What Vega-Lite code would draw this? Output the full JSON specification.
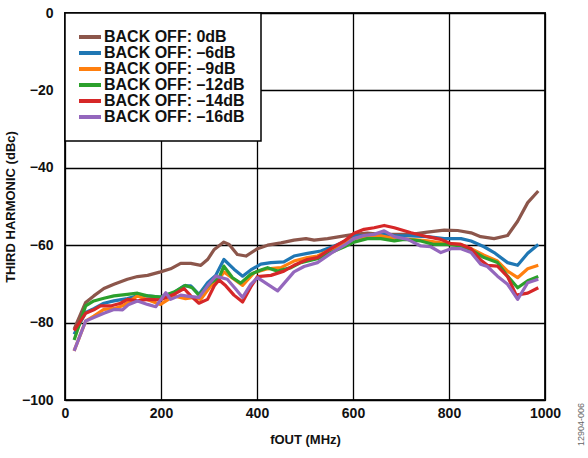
{
  "$schema": "https://vega.github.io/schema/vega-lite/v6.json",
  "width": 480,
  "height": 387,
  "autosize": "none",
  "padding": {"left": 65, "top": 13, "right": 43, "bottom": 58},
  "config": {
    "font": "Liberation Sans",
    "view": {"stroke": "#222", "strokeWidth": 2},
    "axis": {"labelFont": "Liberation Sans", "titleFont": "Liberation Sans", "labelFontWeight": "bold", "titleFontWeight": "bold", "labelColor": "#111", "titleColor": "#111", "gridColor": "#000", "gridOpacity": 1, "gridWidth": 1.3, "domain": false, "ticks": false},
    "legend": {"labelFont": "Liberation Sans", "labelFontWeight": "bold"}
  },
  "title": {"text": "12904-006", "orient": "right", "anchor": "end", "frame": "bounds", "angle": -90, "align": "left", "fontSize": 9, "fontWeight": "normal", "color": "#666", "offset": 7, "font": "Liberation Sans"},
  "data": {"values": [
    {"s":"BACK OFF: 0dB","f":19,"h":-81.7},{"s":"BACK OFF: 0dB","f":43,"h":-74.8},{"s":"BACK OFF: 0dB","f":60,"h":-73.1},{"s":"BACK OFF: 0dB","f":81,"h":-71.2},{"s":"BACK OFF: 0dB","f":102,"h":-70.1},{"s":"BACK OFF: 0dB","f":130,"h":-68.8},{"s":"BACK OFF: 0dB","f":151,"h":-68.1},{"s":"BACK OFF: 0dB","f":172,"h":-67.8},{"s":"BACK OFF: 0dB","f":199,"h":-66.9},{"s":"BACK OFF: 0dB","f":220,"h":-66.1},{"s":"BACK OFF: 0dB","f":241,"h":-64.7},{"s":"BACK OFF: 0dB","f":262,"h":-64.7},{"s":"BACK OFF: 0dB","f":283,"h":-65.2},{"s":"BACK OFF: 0dB","f":297,"h":-63.7},{"s":"BACK OFF: 0dB","f":311,"h":-61.1},{"s":"BACK OFF: 0dB","f":331,"h":-59.2},{"s":"BACK OFF: 0dB","f":342,"h":-59.8},{"s":"BACK OFF: 0dB","f":359,"h":-62.4},{"s":"BACK OFF: 0dB","f":377,"h":-62.8},{"s":"BACK OFF: 0dB","f":401,"h":-60.9},{"s":"BACK OFF: 0dB","f":422,"h":-60.0},{"s":"BACK OFF: 0dB","f":450,"h":-59.4},{"s":"BACK OFF: 0dB","f":477,"h":-58.7},{"s":"BACK OFF: 0dB","f":502,"h":-58.3},{"s":"BACK OFF: 0dB","f":519,"h":-58.7},{"s":"BACK OFF: 0dB","f":547,"h":-58.3},{"s":"BACK OFF: 0dB","f":582,"h":-57.6},{"s":"BACK OFF: 0dB","f":602,"h":-57.2},{"s":"BACK OFF: 0dB","f":630,"h":-56.9},{"s":"BACK OFF: 0dB","f":658,"h":-57.2},{"s":"BACK OFF: 0dB","f":686,"h":-57.2},{"s":"BACK OFF: 0dB","f":721,"h":-57.2},{"s":"BACK OFF: 0dB","f":755,"h":-56.6},{"s":"BACK OFF: 0dB","f":790,"h":-56.1},{"s":"BACK OFF: 0dB","f":818,"h":-56.2},{"s":"BACK OFF: 0dB","f":846,"h":-56.8},{"s":"BACK OFF: 0dB","f":866,"h":-57.8},{"s":"BACK OFF: 0dB","f":894,"h":-58.3},{"s":"BACK OFF: 0dB","f":922,"h":-57.5},{"s":"BACK OFF: 0dB","f":943,"h":-53.8},{"s":"BACK OFF: 0dB","f":964,"h":-49.0},{"s":"BACK OFF: 0dB","f":986,"h":-46.0},
    {"s":"BACK OFF: –6dB","f":19,"h":-83.0},{"s":"BACK OFF: –6dB","f":43,"h":-77.4},{"s":"BACK OFF: –6dB","f":60,"h":-76.4},{"s":"BACK OFF: –6dB","f":81,"h":-75.0},{"s":"BACK OFF: –6dB","f":102,"h":-74.4},{"s":"BACK OFF: –6dB","f":130,"h":-73.8},{"s":"BACK OFF: –6dB","f":151,"h":-73.1},{"s":"BACK OFF: –6dB","f":172,"h":-73.1},{"s":"BACK OFF: –6dB","f":199,"h":-73.4},{"s":"BACK OFF: –6dB","f":227,"h":-72.3},{"s":"BACK OFF: –6dB","f":248,"h":-70.5},{"s":"BACK OFF: –6dB","f":262,"h":-70.5},{"s":"BACK OFF: –6dB","f":279,"h":-72.7},{"s":"BACK OFF: –6dB","f":297,"h":-69.7},{"s":"BACK OFF: –6dB","f":314,"h":-67.8},{"s":"BACK OFF: –6dB","f":331,"h":-63.7},{"s":"BACK OFF: –6dB","f":352,"h":-66.2},{"s":"BACK OFF: –6dB","f":370,"h":-68.0},{"s":"BACK OFF: –6dB","f":387,"h":-66.4},{"s":"BACK OFF: –6dB","f":408,"h":-64.9},{"s":"BACK OFF: –6dB","f":429,"h":-64.5},{"s":"BACK OFF: –6dB","f":456,"h":-64.3},{"s":"BACK OFF: –6dB","f":477,"h":-62.8},{"s":"BACK OFF: –6dB","f":505,"h":-62.1},{"s":"BACK OFF: –6dB","f":533,"h":-61.5},{"s":"BACK OFF: –6dB","f":561,"h":-60.2},{"s":"BACK OFF: –6dB","f":589,"h":-58.7},{"s":"BACK OFF: –6dB","f":602,"h":-57.6},{"s":"BACK OFF: –6dB","f":630,"h":-57.5},{"s":"BACK OFF: –6dB","f":658,"h":-56.9},{"s":"BACK OFF: –6dB","f":686,"h":-57.5},{"s":"BACK OFF: –6dB","f":721,"h":-57.6},{"s":"BACK OFF: –6dB","f":755,"h":-57.8},{"s":"BACK OFF: –6dB","f":790,"h":-58.3},{"s":"BACK OFF: –6dB","f":825,"h":-58.3},{"s":"BACK OFF: –6dB","f":846,"h":-58.9},{"s":"BACK OFF: –6dB","f":873,"h":-60.4},{"s":"BACK OFF: –6dB","f":894,"h":-61.9},{"s":"BACK OFF: –6dB","f":922,"h":-64.5},{"s":"BACK OFF: –6dB","f":943,"h":-65.2},{"s":"BACK OFF: –6dB","f":964,"h":-62.1},{"s":"BACK OFF: –6dB","f":986,"h":-59.8},
    {"s":"BACK OFF: –9dB","f":19,"h":-87.3},{"s":"BACK OFF: –9dB","f":43,"h":-79.6},{"s":"BACK OFF: –9dB","f":60,"h":-78.3},{"s":"BACK OFF: –9dB","f":81,"h":-76.6},{"s":"BACK OFF: –9dB","f":102,"h":-76.4},{"s":"BACK OFF: –9dB","f":123,"h":-75.5},{"s":"BACK OFF: –9dB","f":151,"h":-73.1},{"s":"BACK OFF: –9dB","f":172,"h":-74.1},{"s":"BACK OFF: –9dB","f":199,"h":-75.3},{"s":"BACK OFF: –9dB","f":227,"h":-73.1},{"s":"BACK OFF: –9dB","f":251,"h":-73.8},{"s":"BACK OFF: –9dB","f":269,"h":-73.5},{"s":"BACK OFF: –9dB","f":283,"h":-74.0},{"s":"BACK OFF: –9dB","f":304,"h":-70.5},{"s":"BACK OFF: –9dB","f":321,"h":-68.8},{"s":"BACK OFF: –9dB","f":331,"h":-66.9},{"s":"BACK OFF: –9dB","f":352,"h":-68.8},{"s":"BACK OFF: –9dB","f":370,"h":-70.4},{"s":"BACK OFF: –9dB","f":394,"h":-67.1},{"s":"BACK OFF: –9dB","f":422,"h":-66.1},{"s":"BACK OFF: –9dB","f":450,"h":-65.8},{"s":"BACK OFF: –9dB","f":477,"h":-64.1},{"s":"BACK OFF: –9dB","f":505,"h":-63.2},{"s":"BACK OFF: –9dB","f":526,"h":-62.8},{"s":"BACK OFF: –9dB","f":554,"h":-61.1},{"s":"BACK OFF: –9dB","f":582,"h":-59.5},{"s":"BACK OFF: –9dB","f":602,"h":-58.3},{"s":"BACK OFF: –9dB","f":630,"h":-57.8},{"s":"BACK OFF: –9dB","f":658,"h":-57.6},{"s":"BACK OFF: –9dB","f":686,"h":-58.3},{"s":"BACK OFF: –9dB","f":721,"h":-58.5},{"s":"BACK OFF: –9dB","f":755,"h":-58.9},{"s":"BACK OFF: –9dB","f":790,"h":-59.5},{"s":"BACK OFF: –9dB","f":825,"h":-59.8},{"s":"BACK OFF: –9dB","f":846,"h":-60.9},{"s":"BACK OFF: –9dB","f":873,"h":-62.6},{"s":"BACK OFF: –9dB","f":901,"h":-64.1},{"s":"BACK OFF: –9dB","f":922,"h":-66.7},{"s":"BACK OFF: –9dB","f":943,"h":-68.4},{"s":"BACK OFF: –9dB","f":964,"h":-66.1},{"s":"BACK OFF: –9dB","f":986,"h":-65.2},
    {"s":"BACK OFF: –12dB","f":19,"h":-84.5},{"s":"BACK OFF: –12dB","f":43,"h":-75.7},{"s":"BACK OFF: –12dB","f":60,"h":-74.4},{"s":"BACK OFF: –12dB","f":81,"h":-73.7},{"s":"BACK OFF: –12dB","f":102,"h":-73.1},{"s":"BACK OFF: –12dB","f":130,"h":-72.7},{"s":"BACK OFF: –12dB","f":151,"h":-72.4},{"s":"BACK OFF: –12dB","f":172,"h":-73.1},{"s":"BACK OFF: –12dB","f":199,"h":-73.4},{"s":"BACK OFF: –12dB","f":227,"h":-72.1},{"s":"BACK OFF: –12dB","f":251,"h":-70.4},{"s":"BACK OFF: –12dB","f":265,"h":-71.0},{"s":"BACK OFF: –12dB","f":279,"h":-72.9},{"s":"BACK OFF: –12dB","f":304,"h":-69.7},{"s":"BACK OFF: –12dB","f":321,"h":-68.4},{"s":"BACK OFF: –12dB","f":331,"h":-65.4},{"s":"BACK OFF: –12dB","f":349,"h":-68.4},{"s":"BACK OFF: –12dB","f":366,"h":-69.8},{"s":"BACK OFF: –12dB","f":387,"h":-67.5},{"s":"BACK OFF: –12dB","f":408,"h":-66.4},{"s":"BACK OFF: –12dB","f":422,"h":-65.8},{"s":"BACK OFF: –12dB","f":443,"h":-66.7},{"s":"BACK OFF: –12dB","f":471,"h":-65.8},{"s":"BACK OFF: –12dB","f":491,"h":-64.5},{"s":"BACK OFF: –12dB","f":526,"h":-63.5},{"s":"BACK OFF: –12dB","f":554,"h":-61.9},{"s":"BACK OFF: –12dB","f":582,"h":-60.4},{"s":"BACK OFF: –12dB","f":602,"h":-59.2},{"s":"BACK OFF: –12dB","f":630,"h":-58.3},{"s":"BACK OFF: –12dB","f":658,"h":-58.3},{"s":"BACK OFF: –12dB","f":686,"h":-58.9},{"s":"BACK OFF: –12dB","f":707,"h":-58.5},{"s":"BACK OFF: –12dB","f":741,"h":-58.9},{"s":"BACK OFF: –12dB","f":769,"h":-59.8},{"s":"BACK OFF: –12dB","f":797,"h":-59.8},{"s":"BACK OFF: –12dB","f":825,"h":-60.2},{"s":"BACK OFF: –12dB","f":846,"h":-61.2},{"s":"BACK OFF: –12dB","f":873,"h":-63.2},{"s":"BACK OFF: –12dB","f":901,"h":-64.5},{"s":"BACK OFF: –12dB","f":922,"h":-68.0},{"s":"BACK OFF: –12dB","f":943,"h":-71.0},{"s":"BACK OFF: –12dB","f":964,"h":-69.2},{"s":"BACK OFF: –12dB","f":986,"h":-68.1},
    {"s":"BACK OFF: –14dB","f":19,"h":-82.1},{"s":"BACK OFF: –14dB","f":43,"h":-77.6},{"s":"BACK OFF: –14dB","f":60,"h":-76.7},{"s":"BACK OFF: –14dB","f":74,"h":-75.7},{"s":"BACK OFF: –14dB","f":95,"h":-75.7},{"s":"BACK OFF: –14dB","f":116,"h":-75.0},{"s":"BACK OFF: –14dB","f":130,"h":-74.0},{"s":"BACK OFF: –14dB","f":151,"h":-74.4},{"s":"BACK OFF: –14dB","f":172,"h":-74.0},{"s":"BACK OFF: –14dB","f":199,"h":-74.1},{"s":"BACK OFF: –14dB","f":227,"h":-72.7},{"s":"BACK OFF: –14dB","f":248,"h":-71.2},{"s":"BACK OFF: –14dB","f":262,"h":-73.1},{"s":"BACK OFF: –14dB","f":279,"h":-75.0},{"s":"BACK OFF: –14dB","f":297,"h":-74.0},{"s":"BACK OFF: –14dB","f":311,"h":-70.5},{"s":"BACK OFF: –14dB","f":321,"h":-69.0},{"s":"BACK OFF: –14dB","f":335,"h":-70.5},{"s":"BACK OFF: –14dB","f":352,"h":-72.9},{"s":"BACK OFF: –14dB","f":370,"h":-74.7},{"s":"BACK OFF: –14dB","f":387,"h":-70.8},{"s":"BACK OFF: –14dB","f":401,"h":-68.1},{"s":"BACK OFF: –14dB","f":429,"h":-67.8},{"s":"BACK OFF: –14dB","f":456,"h":-66.7},{"s":"BACK OFF: –14dB","f":477,"h":-65.2},{"s":"BACK OFF: –14dB","f":505,"h":-63.7},{"s":"BACK OFF: –14dB","f":526,"h":-63.2},{"s":"BACK OFF: –14dB","f":554,"h":-60.9},{"s":"BACK OFF: –14dB","f":582,"h":-58.9},{"s":"BACK OFF: –14dB","f":602,"h":-56.9},{"s":"BACK OFF: –14dB","f":623,"h":-55.9},{"s":"BACK OFF: –14dB","f":644,"h":-55.5},{"s":"BACK OFF: –14dB","f":665,"h":-54.9},{"s":"BACK OFF: –14dB","f":686,"h":-55.5},{"s":"BACK OFF: –14dB","f":721,"h":-56.8},{"s":"BACK OFF: –14dB","f":755,"h":-57.8},{"s":"BACK OFF: –14dB","f":783,"h":-58.5},{"s":"BACK OFF: –14dB","f":804,"h":-59.6},{"s":"BACK OFF: –14dB","f":825,"h":-59.8},{"s":"BACK OFF: –14dB","f":846,"h":-60.9},{"s":"BACK OFF: –14dB","f":866,"h":-63.8},{"s":"BACK OFF: –14dB","f":880,"h":-65.2},{"s":"BACK OFF: –14dB","f":901,"h":-65.4},{"s":"BACK OFF: –14dB","f":922,"h":-68.1},{"s":"BACK OFF: –14dB","f":940,"h":-72.9},{"s":"BACK OFF: –14dB","f":964,"h":-72.4},{"s":"BACK OFF: –14dB","f":986,"h":-71.0},
    {"s":"BACK OFF: –16dB","f":19,"h":-87.3},{"s":"BACK OFF: –16dB","f":43,"h":-79.6},{"s":"BACK OFF: –16dB","f":60,"h":-78.7},{"s":"BACK OFF: –16dB","f":81,"h":-77.6},{"s":"BACK OFF: –16dB","f":102,"h":-76.6},{"s":"BACK OFF: –16dB","f":120,"h":-76.7},{"s":"BACK OFF: –16dB","f":133,"h":-75.3},{"s":"BACK OFF: –16dB","f":151,"h":-74.4},{"s":"BACK OFF: –16dB","f":172,"h":-75.3},{"s":"BACK OFF: –16dB","f":189,"h":-75.9},{"s":"BACK OFF: –16dB","f":210,"h":-72.3},{"s":"BACK OFF: –16dB","f":220,"h":-74.0},{"s":"BACK OFF: –16dB","f":241,"h":-72.9},{"s":"BACK OFF: –16dB","f":262,"h":-73.3},{"s":"BACK OFF: –16dB","f":279,"h":-73.5},{"s":"BACK OFF: –16dB","f":297,"h":-70.5},{"s":"BACK OFF: –16dB","f":314,"h":-68.0},{"s":"BACK OFF: –16dB","f":338,"h":-68.8},{"s":"BACK OFF: –16dB","f":356,"h":-71.4},{"s":"BACK OFF: –16dB","f":370,"h":-73.5},{"s":"BACK OFF: –16dB","f":387,"h":-70.1},{"s":"BACK OFF: –16dB","f":401,"h":-68.4},{"s":"BACK OFF: –16dB","f":443,"h":-71.8},{"s":"BACK OFF: –16dB","f":477,"h":-66.9},{"s":"BACK OFF: –16dB","f":498,"h":-65.5},{"s":"BACK OFF: –16dB","f":526,"h":-64.5},{"s":"BACK OFF: –16dB","f":554,"h":-62.1},{"s":"BACK OFF: –16dB","f":582,"h":-60.0},{"s":"BACK OFF: –16dB","f":602,"h":-58.3},{"s":"BACK OFF: –16dB","f":623,"h":-57.5},{"s":"BACK OFF: –16dB","f":644,"h":-57.2},{"s":"BACK OFF: –16dB","f":665,"h":-56.3},{"s":"BACK OFF: –16dB","f":686,"h":-57.8},{"s":"BACK OFF: –16dB","f":714,"h":-58.5},{"s":"BACK OFF: –16dB","f":741,"h":-60.2},{"s":"BACK OFF: –16dB","f":762,"h":-60.4},{"s":"BACK OFF: –16dB","f":783,"h":-61.9},{"s":"BACK OFF: –16dB","f":804,"h":-60.9},{"s":"BACK OFF: –16dB","f":825,"h":-60.9},{"s":"BACK OFF: –16dB","f":846,"h":-61.9},{"s":"BACK OFF: –16dB","f":866,"h":-64.9},{"s":"BACK OFF: –16dB","f":880,"h":-65.5},{"s":"BACK OFF: –16dB","f":901,"h":-68.0},{"s":"BACK OFF: –16dB","f":922,"h":-70.1},{"s":"BACK OFF: –16dB","f":943,"h":-74.0},{"s":"BACK OFF: –16dB","f":964,"h":-69.7},{"s":"BACK OFF: –16dB","f":986,"h":-68.8}
  ]},
  "mark": {"type": "line", "strokeWidth": 3.2, "strokeJoin": "round"},
  "encoding": {
    "x": {"field": "f", "type": "quantitative", "scale": {"domain": [0, 1000], "nice": false},
      "axis": {"values": [0, 200, 400, 600, 800, 1000], "format": "d", "title": "fOUT (MHz)", "labelFontSize": 14, "titleFontSize": 13, "labelPadding": 6, "titlePadding": 13, "labelFlush": false}},
    "y": {"field": "h", "type": "quantitative", "scale": {"domain": [-100, 0], "nice": false},
      "axis": {"values": [-100, -80, -60, -40, -20, 0], "title": "THIRD HARMONIC (dBc)", "labelFontSize": 14, "titleFontSize": 13, "labelPadding": 12, "titlePadding": 4}},
    "color": {"field": "s", "type": "nominal", "sort": null,
      "scale": {"domain": ["BACK OFF: 0dB", "BACK OFF: –6dB", "BACK OFF: –9dB", "BACK OFF: –12dB", "BACK OFF: –14dB", "BACK OFF: –16dB"],
        "range": ["#8c564b", "#1f77b4", "#ff7f0e", "#2ca02c", "#d62728", "#9467bd"]},
      "legend": {"title": null, "orient": "top-left", "offset": 0, "padding": 16, "strokeColor": "#000", "fillColor": "#fff", "symbolType": "M-2,0H2.4", "symbolSize": 100, "symbolStrokeWidth": 4, "labelFontSize": 16, "labelColor": "#111", "labelOffset": 7, "rowPadding": -0.5, "symbolOpacity": 1,
        "encode": {"legend": {"update": {"strokeWidth": {"value": 1.5}}}}}}
  }
}
